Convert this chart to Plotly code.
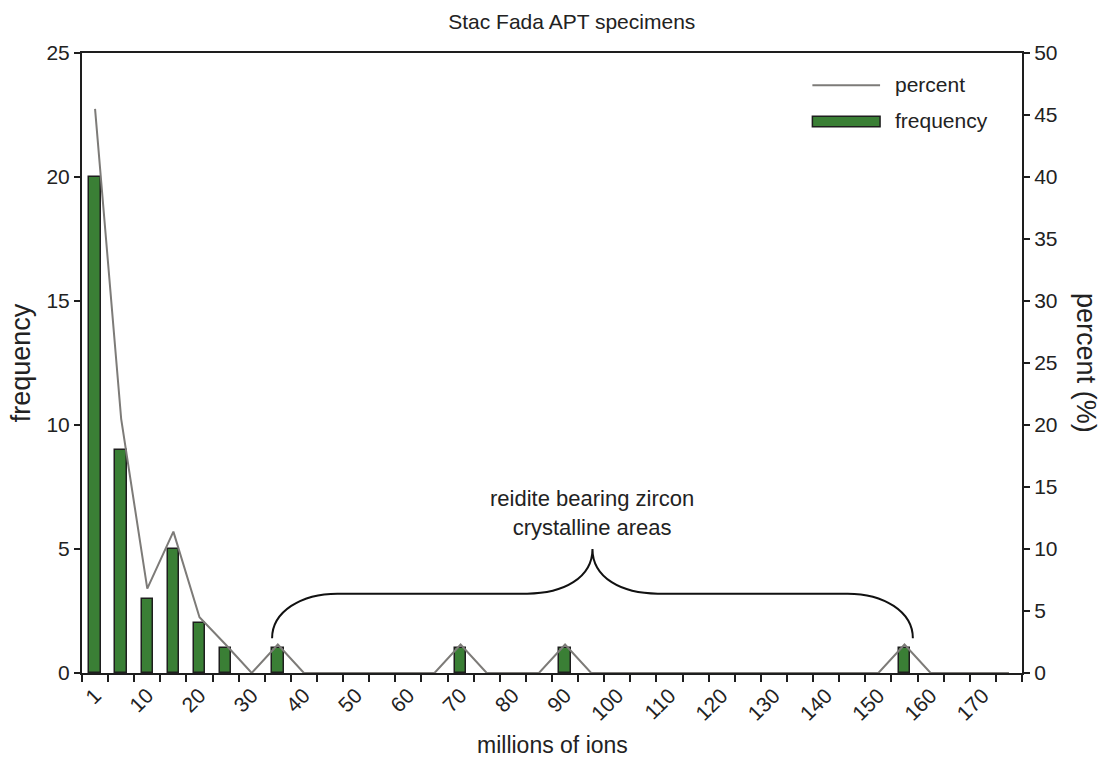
import plotly.graph_objects as go

# Histogram bins (millions of ions); the first bin is labelled "1"
ion_bins = ["1", "5", "10", "15", "20", "25", "30", "35", "40", "45",
            "50", "55", "60", "65", "70", "75", "80", "85", "90", "95",
            "100", "105", "110", "115", "120", "125", "130", "135", "140", "145",
            "150", "155", "160", "165", "170", "175"]

frequency = [20, 9, 3, 5, 2, 1, 0, 1, 0, 0,
             0, 0, 0, 0, 1, 0, 0, 0, 1, 0,
             0, 0, 0, 0, 0, 0, 0, 0, 0, 0,
             0, 1, 0, 0, 0, 0]

percent = [45.5, 20.5, 6.8, 11.4, 4.5, 2.3, 0, 2.3, 0, 0,
           0, 0, 0, 0, 2.3, 0, 0, 0, 2.3, 0,
           0, 0, 0, 0, 0, 0, 0, 0, 0, 0,
           0, 2.3, 0, 0, 0, 0]

tick_labels = ["1", "10", "20", "30", "40", "50", "60", "70", "80", "90",
               "100", "110", "120", "130", "140", "150", "160", "170"]

# bins that hold reidite-bearing zircon crystalline areas
brace_from, brace_to = "35", "155"

pos = list(range(len(ion_bins)))
tick_pos = [ion_bins.index(t) for t in tick_labels]
edges = [p - 0.5 for p in pos] + [pos[-1] + 0.5]

# only occupied bins get a bar (empty bins would leave outline stubs)
bar_pos = [p for p, f in zip(pos, frequency) if f > 0]
bar_val = [f for f in frequency if f > 0]

GREEN = "#3a7f35"
GREY = "#7d7b78"
INK = "#1e1e1e"
TXT = "#222222"
FONT = "Liberation Sans, Arial, sans-serif"

fig = go.Figure()
fig.add_trace(go.Bar(
    x=bar_pos, y=bar_val, name="frequency", width=0.44,
    marker=dict(color=GREEN, line=dict(color=INK, width=1.5)),
    yaxis="y", showlegend=False,
))
fig.add_trace(go.Scatter(
    x=pos, y=percent, name="percent", mode="lines",
    line=dict(color=GREY, width=2), yaxis="y2", showlegend=False,
))


def brace_path(x0, x1, y_end, y_flat, y_peak, rx):
    """Curly brace opening downward, ends at y_end, tip at y_peak."""
    xm = (x0 + x1) / 2
    dy1 = y_flat - y_end
    dy2 = y_peak - y_flat
    return (
        f"M {x0},{y_end} "
        f"C {x0},{y_end + dy1 * 0.6} {x0 + rx * 0.45},{y_flat} {x0 + rx},{y_flat} "
        f"L {xm - rx},{y_flat} "
        f"C {xm - rx * 0.45},{y_flat} {xm},{y_flat + dy2 * 0.35} {xm},{y_peak} "
        f"C {xm},{y_flat + dy2 * 0.35} {xm + rx * 0.45},{y_flat} {xm + rx},{y_flat} "
        f"L {x1 - rx},{y_flat} "
        f"C {x1 - rx * 0.45},{y_flat} {x1},{y_end + dy1 * 0.6} {x1},{y_end}"
    )


bx0 = ion_bins.index(brace_from) - 0.22
bx1 = ion_bins.index(brace_to) + 0.32
fig.add_shape(type="path", xref="x", yref="y",
              path=brace_path(bx0, bx1, 1.4, 3.2, 5.0, 2.5),
              line=dict(color="#111111", width=2))

fig.add_annotation(x=(bx0 + bx1) / 2, y=5.3, xref="x", yref="y",
                   text="reidite bearing zircon<br>crystalline areas",
                   showarrow=False, yanchor="bottom",
                   font=dict(family=FONT, size=22, color=TXT))

# legend drawn as a key in the upper right corner
fig.add_shape(type="line", xref="paper", yref="paper",
              x0=0.777, x1=0.849, y0=0.948, y1=0.948,
              line=dict(color=GREY, width=2))
fig.add_shape(type="rect", xref="paper", yref="paper",
              x0=0.777, x1=0.849, y0=0.881, y1=0.898,
              fillcolor=GREEN, line=dict(color=INK, width=1.5))
fig.add_annotation(x=0.863, y=0.950, xref="paper", yref="paper",
                   text="percent", showarrow=False,
                   xanchor="left", yanchor="middle",
                   font=dict(family=FONT, size=21, color=TXT))
fig.add_annotation(x=0.863, y=0.891, xref="paper", yref="paper",
                   text="frequency", showarrow=False,
                   xanchor="left", yanchor="middle",
                   font=dict(family=FONT, size=21, color=TXT))

# axis titles placed as text so the plot area keeps its size
fig.add_annotation(x=1.068, y=0.5, xref="paper", yref="paper",
                   text="percent (%)", showarrow=False, textangle=90,
                   xanchor="center", yanchor="middle",
                   font=dict(family=FONT, size=27, color=TXT))
fig.add_annotation(x=0.5, y=-0.116, xref="paper", yref="paper",
                   text="millions of ions", showarrow=False,
                   xanchor="center", yanchor="middle",
                   font=dict(family=FONT, size=23, color=TXT))

fig.update_layout(
    width=1106, height=760,
    margin=dict(l=82, r=84, t=53, b=87),
    paper_bgcolor="white", plot_bgcolor="white",
    font=dict(family=FONT, color=TXT),
    title=dict(text="Stac Fada APT specimens", x=0.517, xanchor="center",
               y=0.972, yanchor="middle",
               font=dict(family=FONT, size=21, color=TXT)),
    bargap=0,
    xaxis=dict(
        range=[-0.5, len(ion_bins) - 0.5],
        tickmode="array", tickvals=tick_pos, ticktext=tick_labels,
        tickangle=-45, ticks="", ticklen=0, automargin=False,
        tickfont=dict(family=FONT, size=21, color=TXT),
        showline=True, linecolor=INK, linewidth=2, mirror=True,
        showgrid=False, zeroline=False,
        minor=dict(tickmode="array", tickvals=edges, ticks="outside",
                   ticklen=7, tickwidth=1.5, tickcolor=INK, showgrid=False),
    ),
    yaxis=dict(
        range=[0, 25], dtick=5, ticks="outside", ticklen=6, tickwidth=1.5,
        tickcolor=INK, showline=True, linecolor=INK, linewidth=2,
        showgrid=False, zeroline=False,
        tickfont=dict(family=FONT, size=21, color=TXT),
        title=dict(text="frequency", standoff=8,
                   font=dict(family=FONT, size=27, color=TXT)),
    ),
    yaxis2=dict(
        range=[0, 50], dtick=5, overlaying="y", side="right",
        ticks="outside", ticklen=6, tickwidth=1.5, tickcolor=INK,
        showline=True, linecolor=INK, linewidth=2,
        showgrid=False, zeroline=False,
        tickfont=dict(family=FONT, size=21, color=TXT),
    ),
)

fig.write_html("out.html")
